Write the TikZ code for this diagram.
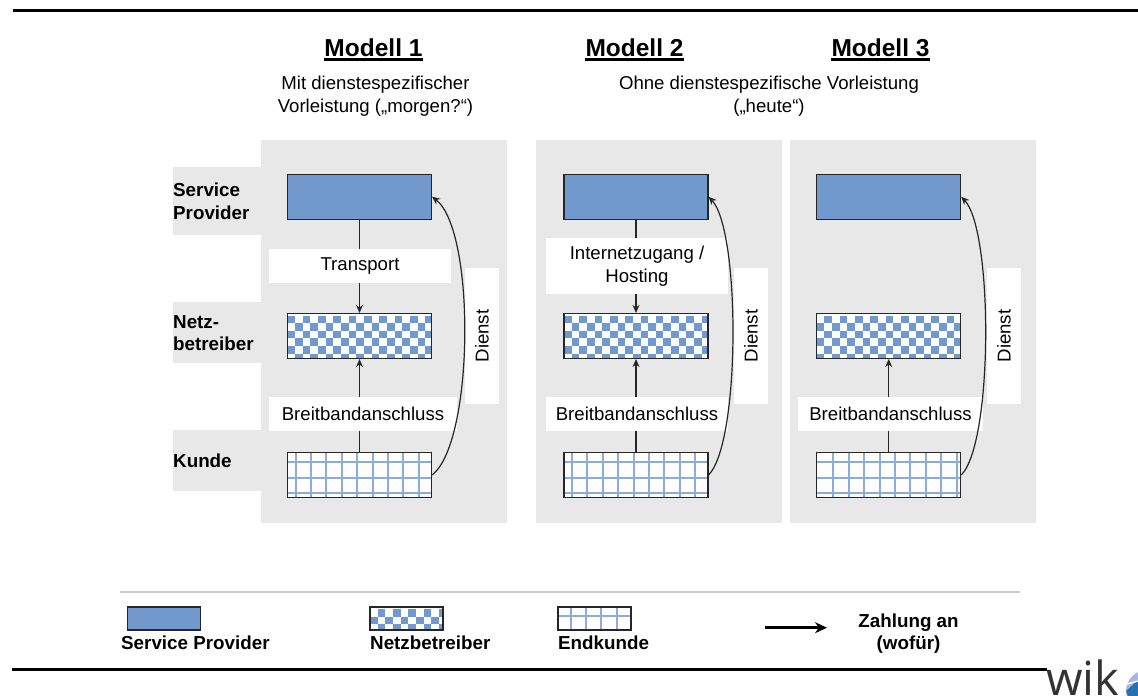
\documentclass[tikz,border=0pt]{standalone}
\usepackage{fontspec}
\setmainfont{Liberation Sans}
\usetikzlibrary{arrows.meta,calc}
\definecolor{sblue}{HTML}{7299CE}
\definecolor{lblue}{HTML}{8AADDB}
\definecolor{pgrey}{HTML}{E8E8E8}
\tikzstyle{arrow} = [line width=1.2pt,black!85,-{Stealth[length=8pt,width=7pt]}]
\tikzset{
    txt/.style={font=\fontsize{18.6}{23}\selectfont, align=center},
    btxt/.style={font=\fontsize{18.8}{22.7}\selectfont\bfseries, align=left},
    ttl/.style={font=\fontsize{24.5}{28}\selectfont\bfseries, anchor=base, inner xsep=0pt, inner ysep=3pt},
    panel/.style={fill=pgrey, inner sep=0pt},
    whitebox/.style={txt, fill=white, inner sep=0pt},
    spbox/.style={draw=black!85, line width=1.1pt, fill=sblue, inner sep=0pt},
    nbbox/.style={draw=black!85, line width=1.1pt, fill=white, inner sep=0pt, path picture={
        \foreach \r in {0,...,6} \foreach \c in {0,...,18} {
            \pgfmathparse{int(mod(\r+\c+#1,2))}
            \ifnum\pgfmathresult=0
                \fill[sblue] ($(path picture bounding box.north west)+(\c*7.65,2+\r*7.65)$) rectangle +(7.65,7.65);
            \fi}}},
    kubox/.style={draw=black!85, line width=1.1pt, fill=white, inner sep=0pt, path picture={
        \foreach \c in {0,...,9} \draw[lblue, line width=2pt] ($(path picture bounding box.north west)+(#1+\c*15.4,0)$) -- +(0,50);
        \foreach \r in {0,...,2} \draw[lblue, line width=2pt] ($(path picture bounding box.north west)+(0,9.3+\r*15.8)$) -- +(160,0);}},
    bigbox/.style={minimum width=144pt, minimum height=45pt},
    smallbox/.style={minimum width=73pt, minimum height=23pt}
}
\begin{document}
\begin{tikzpicture}[x=1pt,y=-1pt]
    \useasboundingbox (0,0) rectangle (1138,696);
    % rules
    \draw[line width=3pt] (13,10.7) -- (1138,10.7);
    \draw[line width=2.6pt] (12,669.3) -- (1047,669.3);
    \draw[line width=2pt, black!20] (120,591.7) -- (1020,591.7);
    % grey background
    \node[panel, minimum width=246pt, minimum height=383pt] (panel1) at (384,331.5) {};
    \node[panel, minimum width=246pt, minimum height=383pt] (panel2) at (659,331.5) {};
    \node[panel, minimum width=246pt, minimum height=383pt] (panel3) at (913,331.5) {};
    \node[panel, minimum width=88pt, minimum height=68pt] (rowsp) at (217,201) {};
    \node[panel, minimum width=88pt, minimum height=61pt] (rownb) at (217,332.5) {};
    \node[panel, minimum width=88pt, minimum height=61pt] (rowku) at (217,460.5) {};
    % titles
    \node[ttl] (title1) at (373.5,56) {Modell 1};
    \node[ttl] (title2) at (634.5,56) {Modell 2};
    \node[ttl] (title3) at (880.5,56) {Modell 3};
    \foreach \m in {1,2,3}
        \draw[line width=2.2pt] (title\m.south west) -- (title\m.south east);
    \node[txt] (sub1) at (375.5,96) {Mit dienstespezifischer\\Vorleistung („morgen?“)};
    \node[txt] (sub2) at (769,96) {Ohne dienstespezifische Vorleistung\\(„heute“)};
    % row labels
    \node[btxt, anchor=west, inner sep=0pt] (lblsp) at (173,201) {Service\\Provider};
    \node[btxt, anchor=west, inner sep=0pt] (lblnb) at (173,333) {Netz-\\betreiber};
    \node[btxt, anchor=west, inner sep=0pt] (lblku) at (173,461) {Kunde};
    % boxes
    \foreach \m/\x/\p/\o in {1/359.5/0/8,2/636/0/8,3/888.7/1/16.7} {
        \node[spbox, bigbox] (sp\m) at (\x,196.7) {};
        \node[nbbox=\p, bigbox] (nb\m) at (\x,336) {};
        \node[kubox=\o, bigbox] (ku\m) at (\x,475) {};
        \draw[arrow] (ku\m) -- (nb\m);
    }
    \draw[arrow] (sp1) -- (nb1);
    \draw[arrow] (sp2) -- (nb2);
    % labels on white
    \node[whitebox, minimum width=182pt, minimum height=34pt] (transp) at (360,266) {Transport};
    \node[whitebox, minimum width=182pt, minimum height=56pt] (inet) at (637,266) {Internetzugang /\\Hosting};
    \node[whitebox, minimum width=188pt, minimum height=34pt] (bb1) at (363,414) {Breitbandanschluss};
    \node[whitebox, minimum width=182pt, minimum height=34pt] (bb2) at (637,414) {Breitbandanschluss};
    \node[whitebox, minimum width=185pt, minimum height=34pt] (bb3) at (890.5,414) {Breitbandanschluss};
    \node[whitebox, minimum width=136pt, minimum height=34pt, rotate=90] (dienst1) at (482,336) {Dienst};
    \node[whitebox, minimum width=136pt, minimum height=34pt, rotate=90] (dienst2) at (751,336) {Dienst};
    \node[whitebox, minimum width=136pt, minimum height=34pt, rotate=90] (dienst3) at (1004,336) {Dienst};
    % Dienst curves
    \draw[arrow] (ku1.east) .. controls +(42,-32) and +(44,34) .. (sp1.east);
    \draw[arrow] (ku2.east) .. controls +(32,-32) and +(32,34) .. (sp2.east);
    \draw[arrow] (ku3.east) .. controls +(32,-32) and +(32,34) .. (sp3.east);
    % legend
    \node[spbox, smallbox] (legsp) at (164,618.5) {};
    \node[nbbox=1, smallbox] (legnb) at (406.5,618.5) {};
    \node[kubox=12.5, smallbox] (legku) at (594.5,618.5) {};
    \node[btxt, anchor=west, inner sep=0pt] (txtsp) at (121,643) {Service Provider};
    \node[btxt, anchor=west, inner sep=0pt] (txtnb) at (370,643) {Netzbetreiber};
    \node[btxt, anchor=west, inner sep=0pt] (txtku) at (558,643) {Endkunde};
    \coordinate (legfrom) at (765,627.7);
    \coordinate (legto) at (827,627.7);
    \draw[line width=3pt, -{Stealth[length=12pt,width=11pt]}] (legfrom) -- (legto);
    \node[btxt, align=center] (txtzahl) at (908.5,633.5) {Zahlung an\\(wofür)};
    % logo
    \node[anchor=base west, inner sep=0pt, text=black!80, font=\fontsize{47}{47}\selectfont\fontspec{Open Sans}] (logo) at (1046,695) {wik};
    \fill[cyan!40!blue!35] (1147,691) circle (21pt);
    \fill[teal!70!blue!85] (1126,691) -- (1138,680) -- (1138,696) -- (1128,696) -- cycle;
    \draw[white, line width=1.5pt] (1127,684) -- (1138,681);
\end{tikzpicture}
\end{document}
